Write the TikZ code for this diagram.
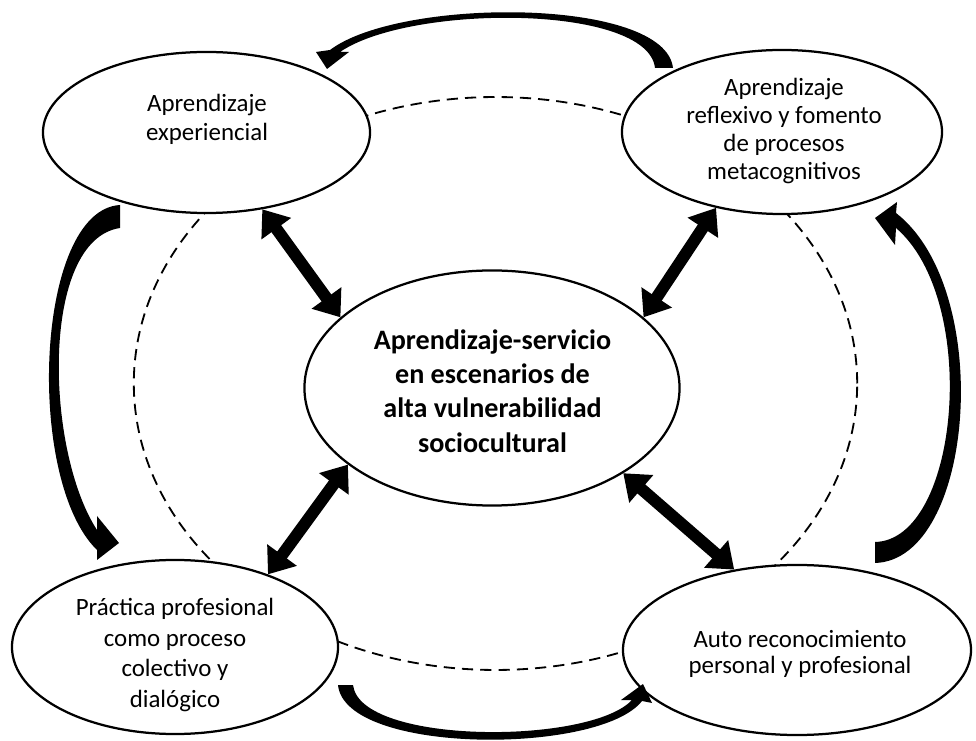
\documentclass[tikz,border=0pt]{standalone}
\usepackage{fontspec}
\setmainfont{Carlito}
\usetikzlibrary{shapes.geometric}
\usetikzlibrary{arrows.meta}

\begin{document}
\begin{tikzpicture}
	[
		x = 0.025cm, y = -0.025cm,
		myellipse/.style = {draw, ellipse, fill = white, line width = 1.6pt, inner sep = 0pt},
		mylabel/.style = {align = center, font = \fontsize{17.7}{20.5}\selectfont},
		myarrow/.style = {line width = 8.5pt, {Triangle[length = 17pt, width = 25pt]}-{Triangle[length = 17pt, width = 25pt]}},
		mybend/.style = {fill = black},
		mydashed/.style = {dash pattern = on 8pt off 5pt, line width = 1.3pt}
	]
	%
	\useasboundingbox (0,0) rectangle (976,741);
	%
	\draw [mydashed] (495.5,383.5) ellipse [x radius = 9.04cm, y radius = 7.16cm];
	%
	\node (center) [myellipse, minimum width = 9.375cm, minimum height = 5.875cm] at (492,388) {};
	\node (centertext) [mylabel, font = \bfseries\fontsize{20}{24.4}\selectfont] at (492.5,391) {Aprendizaje-servicio\\en escenarios de\\alta vulnerabilidad\\sociocultural};
	%
	\node (exp) [myellipse, minimum width = 8.175cm, minimum height = 4.025cm] at (206.5,132.5) {};
	\node (exptext) [mylabel] at (207,119) {Aprendizaje\\experiencial};
	%
	\node (refl) [myellipse, minimum width = 8cm, minimum height = 4.1cm] at (782,132) {};
	\node (refltext) [mylabel, font = \fontsize{17.7}{20}\selectfont] at (784,131) {Aprendizaje\\reflexivo y fomento\\de procesos\\metacognitivos};
	%
	\node (prac) [myellipse, minimum width = 8.15cm, minimum height = 4.35cm] at (175,647) {};
	\node (practext) [mylabel, font = \fontsize{17.7}{22}\selectfont] at (175,655) {Práctica profesional\\como proceso\\colectivo y\\dialógico};
	%
	\node (auto) [myellipse, minimum width = 8.7cm, minimum height = 4.25cm] at (797,650) {};
	\node (autotext) [mylabel, font = \fontsize{17.7}{19}\selectfont] at (800,654) {Auto reconocimiento\\personal y profesional};
	%
	\draw [myarrow] (exp.306.1) -- (center.155.1);
	\draw [myarrow] (refl.229.5) -- (center.25.3);
	\draw [myarrow] (center.208.3) -- (prac.38.3);
	\draw [myarrow] (center.327.5) -- (auto.128.1);
	%
	% curved arrows round the cycle
	\fill [mybend] (673,68) .. controls (665,-3) and (400,-3) .. (330,50) -- (316,52) -- (327,69) -- (349,52) -- (340,52) .. controls (410,4) and (648,4) .. (655,68) -- cycle;
	\fill [mybend] (120,205) .. controls (35,210) and (25,480) .. (97,550) -- (97,560) -- (119,543) -- (97,516) -- (97,530) .. controls (45,450) and (40,240) .. (120,228) -- cycle;
	\fill [mybend] (338,685) .. controls (345,755) and (600,755) .. (642,701) -- (652,703) -- (643,684) -- (621,700) -- (632,700) .. controls (590,745) and (360,745) .. (353,685) -- cycle;
	\fill [mybend] (875,563) .. controls (975,560) and (995,290) .. (896,213) -- (897,202) -- (875,218) -- (895,245) -- (896,228) .. controls (980,300) and (960,540) .. (875,542) -- cycle;
	%
\end{tikzpicture}
\end{document}
